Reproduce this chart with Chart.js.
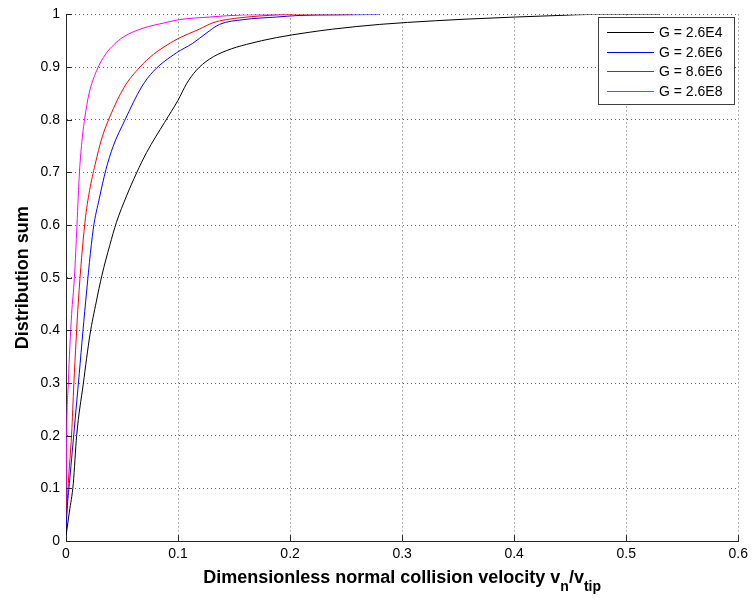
<!DOCTYPE html>
<html>
<head>
<meta charset="utf-8">
<script src="https://cdn.jsdelivr.net/npm/chart.js@4.4.0/dist/chart.umd.min.js"></script>
<style>
  html, body { margin: 0; padding: 0; background: #fff; }
  #wrap { width: 753px; height: 600px; }
</style>
</head>
<body>
<div id="wrap"><canvas id="grafico" width="753" height="600"></canvas></div>
<script>
// dados
const seriesLabels = ['G = 2.6E4', 'G = 2.6E6', 'G = 8.6E6', 'G = 2.6E8'];
const seriesColors = ['#000000', '#0000ff', '#ff0000', '#ff00ff'];

const xG4 = [0, 0.003, 0.0065, 0.0095, 0.0154, 0.0214, 0.027, 0.032, 0.039, 0.045, 0.054, 0.063, 0.072, 0.088, 0.1, 0.1075, 0.116, 0.128, 0.143, 0.161, 0.188, 0.217, 0.238, 0.28, 0.33, 0.357, 0.401, 0.44, 0.47, 0.53];
const yG4 = [0.01, 0.055, 0.109, 0.2, 0.298, 0.392, 0.454, 0.504, 0.561, 0.605, 0.655, 0.699, 0.738, 0.795, 0.837, 0.868, 0.893, 0.915, 0.931, 0.943, 0.956, 0.966, 0.972, 0.981, 0.988, 0.991, 0.995, 0.998, 1.0, 1.0];

const xG6 = [0, 0.001, 0.003, 0.007, 0.011, 0.0175, 0.0243, 0.0297, 0.0356, 0.042, 0.0525, 0.0674, 0.078, 0.0986, 0.113, 0.125, 0.137, 0.158, 0.188, 0.208, 0.24, 0.28];
const yG6 = [0.02, 0.06, 0.109, 0.203, 0.298, 0.454, 0.592, 0.65, 0.705, 0.749, 0.799, 0.862, 0.892, 0.927, 0.945, 0.964, 0.981, 0.990, 0.995, 0.998, 0.999, 1.0];

const xG86 = [0, 0.001, 0.002, 0.005, 0.007, 0.011, 0.0169, 0.021, 0.026, 0.032, 0.039, 0.052, 0.066, 0.078, 0.0866, 0.1, 0.119, 0.131, 0.143, 0.173, 0.208, 0.256];
const yG86 = [0.03, 0.07, 0.109, 0.203, 0.298, 0.454, 0.605, 0.665, 0.715, 0.765, 0.805, 0.862, 0.900, 0.924, 0.937, 0.954, 0.972, 0.984, 0.990, 0.997, 1.0, 1.0];

const xG8 = [0, 0.0006, 0.002, 0.005, 0.0075, 0.0098, 0.012, 0.0145, 0.0169, 0.0205, 0.0273, 0.0355, 0.043, 0.051, 0.069, 0.088, 0.101, 0.128, 0.158, 0.2];
const yG8 = [0.05, 0.203, 0.298, 0.43, 0.5, 0.6, 0.7, 0.765, 0.805, 0.849, 0.893, 0.925, 0.943, 0.957, 0.974, 0.984, 0.990, 0.995, 0.999, 1.0];

const xTicks = [0, 0.1, 0.2, 0.3, 0.4, 0.5, 0.6];
const yTicks = [0, 0.1, 0.2, 0.3, 0.4, 0.5, 0.6, 0.7, 0.8, 0.9, 1];

const xs = [xG4, xG6, xG86, xG8];
const ys = [yG4, yG6, yG86, yG8];

function pontos(x, y) {
    return x.map((v, i) => ({ x: v, y: y[i] }));
}

const fonte = 'Arial, "Liberation Sans", Helvetica, sans-serif';
const fmt = v => String(Math.round(v * 10) / 10);

// marcas dos eixos para dentro, legenda e título do eixo x (com subscritos)
const extras = {
    id: 'extras',
    afterDraw(chart) {
        const ctx = chart.ctx;
        const area = chart.chartArea;
        const sx = chart.scales.x, sy = chart.scales.y;
        ctx.save();
        ctx.setLineDash([]);
        ctx.strokeStyle = '#262626';
        ctx.lineWidth = 1;
        ctx.beginPath();
        xTicks.forEach(t => {
            const px = Math.round(sx.getPixelForValue(t)) + 0.5;
            ctx.moveTo(px, area.bottom);
            ctx.lineTo(px, area.bottom - 6);
        });
        yTicks.forEach(t => {
            const py = Math.round(sy.getPixelForValue(t)) + 0.5;
            ctx.moveTo(area.left, py);
            ctx.lineTo(area.left + 6, py);
        });
        ctx.stroke();

        // legenda
        const lx = 598, ly = 17, lw = 136, lh = 87;
        ctx.fillStyle = '#fff';
        ctx.fillRect(lx, ly, lw, lh);
        ctx.strokeStyle = '#404040';
        ctx.strokeRect(lx + 0.5, ly + 0.5, lw, lh);
        ctx.font = '14px ' + fonte;
        ctx.textBaseline = 'middle';
        ctx.textAlign = 'left';
        seriesLabels.forEach((lab, i) => {
            const yy = Math.round(ly + 15 + i * 19.5) + 0.5;
            ctx.strokeStyle = seriesColors[i];
            ctx.lineWidth = 1;
            ctx.beginPath();
            ctx.moveTo(lx + 9, yy);
            ctx.lineTo(lx + 56, yy);
            ctx.stroke();
            ctx.fillStyle = '#000';
            ctx.fillText(lab, lx + 61, yy + 1);
        });

        // título do eixo x
        const partes = [
            { t: 'Dimensionless normal collision velocity v', f: 'bold 18px ', dy: 0 },
            { t: 'n', f: 'bold 14px ', dy: 8 },
            { t: '/v', f: 'bold 18px ', dy: 0 },
            { t: 'tip', f: 'bold 14px ', dy: 8 }
        ];
        let total = 0;
        partes.forEach(p => { ctx.font = p.f + fonte; p.w = ctx.measureText(p.t).width; total += p.w; });
        let x0 = (area.left + area.right) / 2 - total / 2;
        ctx.fillStyle = '#000';
        ctx.textBaseline = 'alphabetic';
        partes.forEach(p => {
            ctx.font = p.f + fonte;
            ctx.fillText(p.t, x0, 583 + p.dy);
            x0 += p.w;
        });
        ctx.restore();
    }
};

const ctx = document.getElementById('grafico').getContext('2d');
new Chart(ctx, {
    type: 'scatter',
    data: {
        datasets: seriesLabels.map((lab, i) => ({
            label: lab,
            data: pontos(xs[i], ys[i]),
            showLine: true,
            borderColor: seriesColors[i],
            backgroundColor: seriesColors[i],
            borderWidth: 1,
            pointRadius: 0,
            cubicInterpolationMode: 'monotone'
        }))
    },
    options: {
        responsive: false,
        animation: false,
        layout: { padding: { left: 0, top: 10, right: 13, bottom: 0 } },
        plugins: {
            legend: { display: false },
            tooltip: { enabled: false }
        },
        scales: {
            x: {
                type: 'linear',
                min: 0,
                max: 0.6,
                afterFit: s => { s.height = 59; },
                afterBuildTicks: s => { s.ticks = xTicks.map(v => ({ value: v })); },
                ticks: {
                    callback: fmt,
                    color: '#000',
                    font: { family: fonte, size: 14 },
                    padding: 5,
                    maxRotation: 0
                },
                grid: { color: 'rgba(0,0,0,0.6)', drawTicks: false, lineWidth: 1 },
                border: { display: true, color: '#262626', width: 1, dash: [1, 3] }
            },
            y: {
                type: 'linear',
                min: 0,
                max: 1,
                afterFit: s => { s.width = 66; },
                afterBuildTicks: s => { s.ticks = yTicks.map(v => ({ value: v })); },
                ticks: {
                    callback: fmt,
                    color: '#000',
                    font: { family: fonte, size: 14 },
                    padding: 6
                },
                grid: { color: 'rgba(0,0,0,0.6)', drawTicks: false, lineWidth: 1 },
                border: { display: true, color: '#262626', width: 1, dash: [1, 3] },
                title: {
                    display: true,
                    text: 'Distribution sum',
                    color: '#000',
                    font: { family: fonte, size: 18, weight: 'bold' },
                    padding: { top: 12, bottom: 0 }
                }
            }
        }
    },
    plugins: [extras]
});
</script>
</body>
</html>
